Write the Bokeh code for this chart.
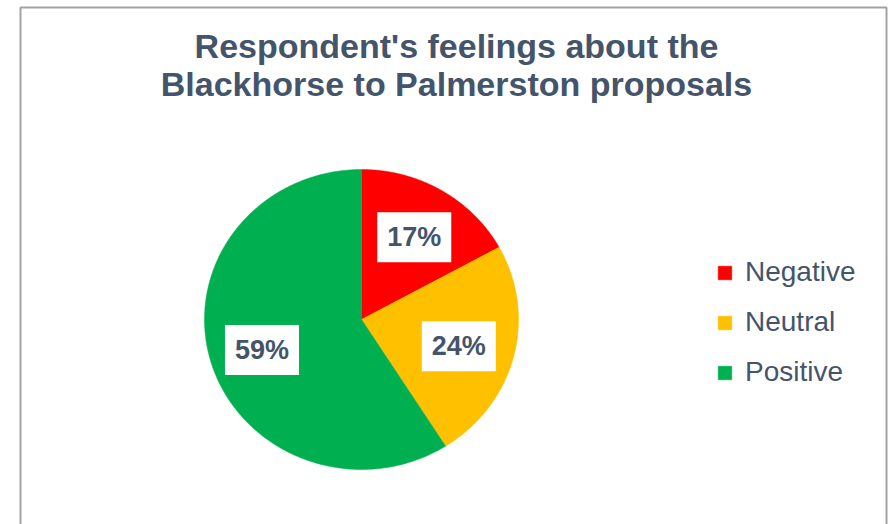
import numpy as np
from bokeh.plotting import figure
from bokeh.models import Range1d, Label, ColumnDataSource
from bokeh.embed import file_html
from bokeh.resources import INLINE

# ---- data ----
categories = ["Negative", "Neutral", "Positive"]
percentages = [17, 24, 59]
colors = ["#FF0000", "#FFC000", "#00B050"]
title_lines = ["Respondent's feelings about the", "Blackhorse to Palmerston proposals"]

TEXT_COLOR = "#44546A"
FONT = "Liberation Sans"

W, H = 896, 524
p = figure(width=W, height=H, output_backend="svg", toolbar_location=None,
           x_range=Range1d(0, W), y_range=Range1d(H, 0),
           x_axis_location=None, y_axis_location=None, min_border=0)
p.grid.visible = False
p.outline_line_color = None
p.background_fill_color = "white"
p.border_fill_color = "white"

# chart area border (open at bottom, as in the reference)
p.line(x=[20, 20, 886, 886], y=[H + 50, 7, 7, H + 50], line_color="#A0A2A6", line_width=2)

# pie geometry (slightly elliptical as in the reference)
cx, cy, rx, ry = 361, 319, 157, 150
vals = np.array(percentages, dtype=float)
fr = vals / vals.sum()
ends = np.pi / 2 - 2 * np.pi * np.cumsum(fr)
starts = np.concatenate([[np.pi / 2], ends[:-1]])

xs, ys = [], []
for a0, a1 in zip(starts, ends):
    t = np.linspace(a0, a1, 200)
    xs.append(list(np.concatenate([[cx], cx + rx * np.cos(t), [cx]])))
    ys.append(list(np.concatenate([[cy], cy - ry * np.sin(t), [cy]])))

src = ColumnDataSource(dict(xs=xs, ys=ys, color=colors, label=categories))
p.patches("xs", "ys", source=src, fill_color="color", line_color="color",
          line_width=0.5, legend_field="label")

# data labels
mids = (starts + ends) / 2
fracs = [0.66, 0.64, 0.66]
for m, pct, f in zip(mids, percentages, fracs):
    lab = Label(x=cx + f * rx * np.cos(m), y=cy - f * ry * np.sin(m) + 3,
                text=f"{pct}%", text_align="center", text_baseline="middle",
                text_font=FONT, text_font_style="bold", text_font_size="27px",
                text_color=TEXT_COLOR, background_fill_color="white",
                padding=10)
    p.add_layout(lab)

# title
for i, line in enumerate(title_lines):
    p.add_layout(Label(x=456, y=45 + 38 * i, text=line, text_align="center",
                       text_baseline="alphabetic", text_font=FONT,
                       text_font_style="bold", text_font_size="34px",
                       text_color=TEXT_COLOR))

# legend
lg = p.legend[0]
lg.location = (716, 136)
lg.border_line_color = None
lg.background_fill_alpha = 0
lg.padding = 0
lg.margin = 0
lg.spacing = 18
lg.glyph_width = 17
lg.glyph_height = 17
lg.label_height = 30
lg.label_standoff = 12
lg.label_text_font = FONT
lg.label_text_font_size = "28px"
lg.label_text_color = TEXT_COLOR
lg.label_text_baseline = "middle"

open("out.html", "w").write(file_html(p, INLINE))
